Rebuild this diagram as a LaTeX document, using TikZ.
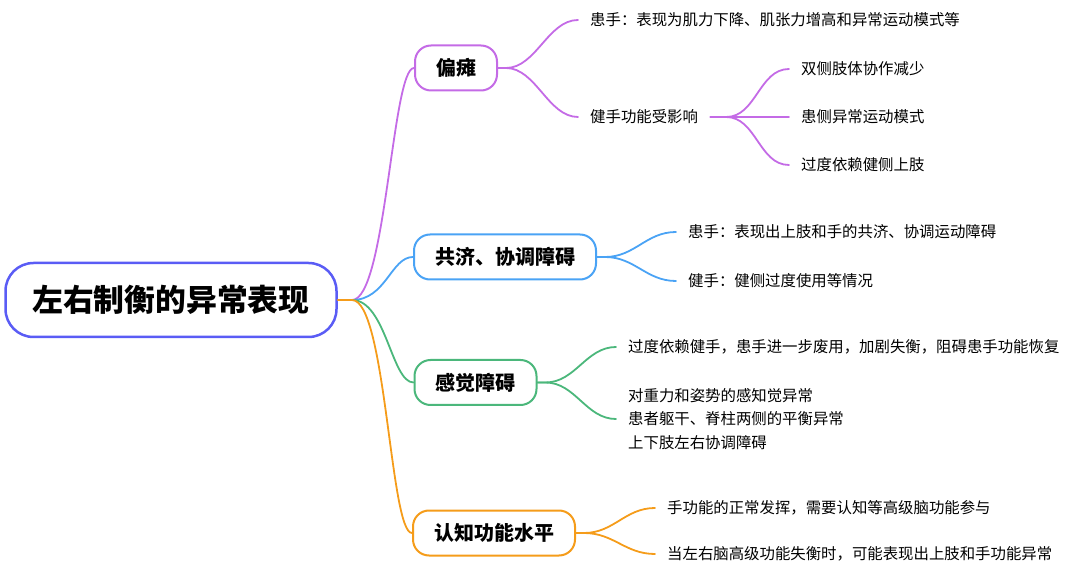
\documentclass[tikz,border=0pt]{standalone}
\usepackage{fontspec}
\setmainfont{Noto Sans CJK SC}
\definecolor{rootblue}{HTML}{5A5CF5}
\definecolor{mpurple}{HTML}{C46BE6}
\definecolor{mblue}{HTML}{4AA3F5}
\definecolor{mgreen}{HTML}{4BB77B}
\definecolor{morange}{HTML}{F59C1A}
\tikzset{
	topic/.style={draw,fill=white,line width=2pt,rounded corners=16pt,minimum height=45pt,inner xsep=21pt,font=\fontsize{20}{24}\selectfont\bfseries},
	leaf/.style={anchor=west,inner xsep=12pt,align=left,font=\fontsize{15.4}{23.5}\selectfont},
	link/.style={line width=1.8pt}
}
\begin{document}
\begin{tikzpicture}[x=1pt,y=-1pt,line join=round,line cap=round]
	\useasboundingbox (0,0) rectangle (1080,577);
	\path
	(352,300) coordinate (hub)
	;
	\node[draw=rootblue,line width=2.5pt,rounded corners=28pt,minimum width=331pt,minimum height=74pt,font=\fontsize{30.8}{36}\selectfont\bfseries] (root) at (171,300) {左右制衡的异常表现};
	\node[topic,draw=mpurple] (pianta) at (456,68) {偏瘫};
	\node[topic,draw=mblue] (gongji) at (505,257) {共济、协调障碍};
	\node[topic,draw=mgreen] (ganjue) at (475.5,382.5) {感觉障碍};
	\node[topic,draw=morange] (renzhi) at (494,533) {认知功能水平};
	% leaves
	\foreach \n/\x/\y/\t in {
		p1/578/20/{患手：表现为肌力下降、肌张力增高和异常运动模式等},
		p2/578/117/{健手功能受影响},
		q1/789/69/{双侧肢体协作减少},
		q2/789/117/{患侧异常运动模式},
		q3/789/165/{过度依赖健侧上肢},
		g1/676/232/{患手：表现出上肢和手的共济、协调运动障碍},
		g2/676/281/{健手：健侧过度使用等情况},
		s1/616/347/{过度依赖健手，患手进一步废用，加剧失衡，阻碍患手功能恢复},
		s2/616/419/{对重力和姿势的感知觉异常\\患者躯干、脊柱两侧的平衡异常\\上下肢左右协调障碍},
		r1/655/508/{手功能的正常发挥，需要认知等高级脑功能参与},
		r2/655/554/{当左右脑高级功能失衡时，可能表现出上肢和手功能异常}
	}\node[leaf] (\n) at (\x,\y) {\t};
	% connectors
	\foreach \b/\c in {pianta/mpurple,gongji/mblue,ganjue/mgreen,renzhi/morange}
	\draw[link,\c] (hub) .. controls +(34,0) and +(-22,0) .. (\b.west);
	\draw[link,morange] (root.east) -- (hub);
	\foreach \b/\l/\c in {pianta/p1/mpurple,pianta/p2/mpurple,gongji/g1/mblue,gongji/g2/mblue,ganjue/s1/mgreen,ganjue/s2/mgreen,renzhi/r1/morange,renzhi/r2/morange}
	\draw[link,\c] (\b.east) -- ++(8,0) .. controls +(30,0) and +(-30,0) .. (\l.west);
	\path (p2.east) ++(16,0) coordinate (split);
	\draw[link,mpurple] (p2.east) -- (split);
	\foreach \l in {q1,q2,q3}
	\draw[link,mpurple] (split) .. controls +(30,0) and +(-30,0) .. (\l.west);
\end{tikzpicture}
\end{document}
